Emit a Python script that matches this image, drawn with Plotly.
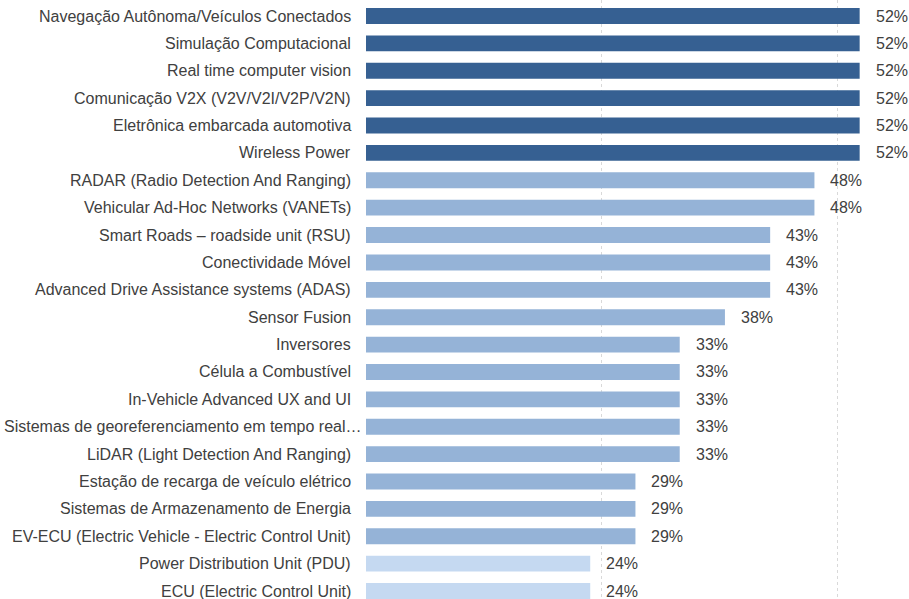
import plotly.graph_objects as go

categories = [
    "Navegação Autônoma/Veículos Conectados",
    "Simulação Computacional",
    "Real time computer vision",
    "Comunicação V2X (V2V/V2I/V2P/V2N)",
    "Eletrônica embarcada automotiva",
    "Wireless Power",
    "RADAR (Radio Detection And Ranging)",
    "Vehicular Ad-Hoc Networks (VANETs)",
    "Smart Roads – roadside unit (RSU)",
    "Conectividade Móvel",
    "Advanced Drive Assistance systems (ADAS)",
    "Sensor Fusion",
    "Inversores",
    "Célula a Combustível",
    "In-Vehicle Advanced UX and UI",
    "Sistemas de georeferenciamento em tempo real…",
    "LiDAR (Light Detection And Ranging)",
    "Estação de recarga de veículo elétrico",
    "Sistemas de Armazenamento de Energia",
    "EV-ECU (Electric Vehicle - Electric Control Unit)",
    "Power Distribution Unit (PDU)",
    "ECU (Electric Control Unit)",
]
values = [0.524, 0.524, 0.524, 0.524, 0.524, 0.524,
          0.476, 0.476, 0.429, 0.429, 0.429, 0.381,
          0.333, 0.333, 0.333, 0.333, 0.333,
          0.286, 0.286, 0.286, 0.238, 0.238]

DARK = "#366092"
MID = "#95B3D7"
LIGHT = "#C5D9F1"


def bar_color(v):
    if v > 0.5:
        return DARK
    if v > 0.25:
        return MID
    return LIGHT


colors = [bar_color(v) for v in values]
font_color = "#404040"

fig = go.Figure(go.Bar(
    x=values, y=categories, orientation="h",
    marker=dict(color=colors, line_width=0),
    width=0.58,
    hoverinfo="skip",
))

# value labels to the right of each bar
for c, v in zip(categories, values):
    fig.add_annotation(x=v, y=c, text=f"{round(v * 100)}%", showarrow=False,
                       xanchor="left", xshift=14,
                       font=dict(size=16, color=font_color))

# category labels; the truncated one runs right up to the axis like the original
for c in categories:
    fig.add_annotation(x=0, xref="paper", y=c, yref="y", text=c, showarrow=False,
                       xanchor="right", xshift=-2 if c.endswith("…") else -13,
                       font=dict(size=16, color=font_color))

n = len(categories)
fig.update_layout(
    width=909, height=599,
    margin=dict(l=366, r=6, t=0, b=0),
    paper_bgcolor="white", plot_bgcolor="white",
    font=dict(family="Liberation Sans, Arial, sans-serif", size=16, color=font_color),
    showlegend=False,
    xaxis=dict(range=[0, 0.57], dtick=0.25, tick0=0, showgrid=True,
               gridcolor="#d9d9d9", griddash="dot", gridwidth=1,
               zeroline=False, showticklabels=False, fixedrange=True),
    yaxis=dict(range=[n - 1 + 0.292, -0.585], showgrid=False,
               zeroline=False, showline=False, ticks="",
               showticklabels=False, automargin=False),
)

# drop the default 8px page margin so the figure fills the window exactly
fig.write_html("out.html", config={"displayModeBar": False},
               post_script="document.body.style.margin='0';")
